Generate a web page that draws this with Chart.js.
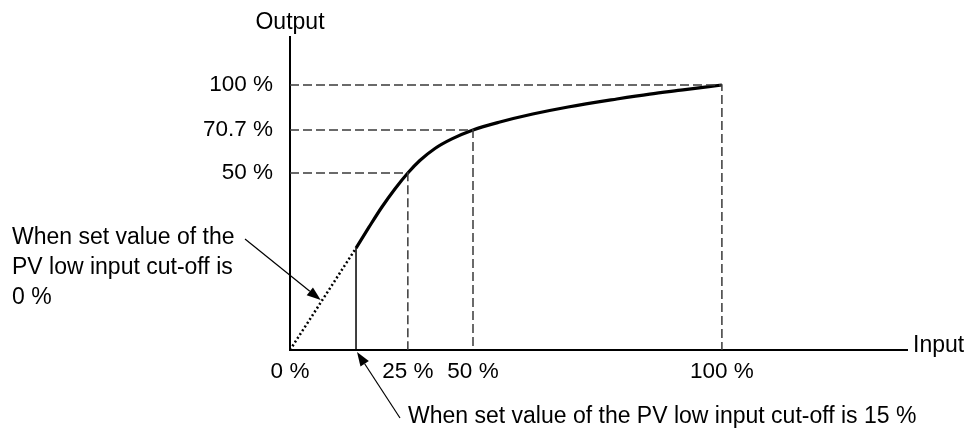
<!DOCTYPE html>
<html>
<head>
<meta charset="utf-8">
<script src="https://cdn.jsdelivr.net/npm/chart.js@4"></script>
<style>
    body { margin: 0; background: #fff; }
    #wrap { width: 967px; height: 432px; }
</style>
</head>
<body>
<div id="wrap"><canvas id="sqrtChart"></canvas></div>
<script>
// Input / output values of the square-root extraction curve (in %)
const inputTicks = [0, 25, 50, 100];
const outputTicks = [50, 70.7, 100];

const curveInput = [15, 17.5, 20.0, 22.5, 25, 29.6, 35.4, 41.9, 50, 55.4, 62.0, 69.1, 78.9, 85.5, 92.2, 100];
const curveOutput = [28.8, 34.7, 40.4, 45.5, 50, 56.0, 61.8, 66.4, 70.7, 75.9, 81.1, 85.7, 90.9, 94.1, 96.8, 100];

// low input cut-off
const cutoffInput = 15;
const cutoffOutput = 28.8;

// dashed guides from each axis to the curve
const guideInput = [25, 50, 100];
const guideOutput = [50, 70.7, 100];

// axes are drawn as a sketch, not to scale: value -> fraction of the axis length
const axisKnots = {
    x: { values: [0, 15, 25, 50, 100, 130], at: [0, 0.107, 0.191, 0.2966, 0.700, 1] },
    y: { values: [0, 50, 70.7, 100, 120], at: [0, 0.5655, 0.7029, 0.8466, 1] }
};

function piecewise(v, from, to) {
    for (let i = 0; i < from.length - 1; i++) {
        if (v <= from[i + 1] || i === from.length - 2) {
            const t = (v - from[i]) / (from[i + 1] - from[i]);
            return to[i] + t * (to[i + 1] - to[i]);
        }
    }
    return to[0];
}

class SketchScale extends Chart.LinearScale {
    static id = 'sketch';
    static defaults = {};
    getPixelForValue(value) {
        if (value === null || value === undefined) return NaN;
        const k = axisKnots[this.id];
        return this.getPixelForDecimal(piecewise(value, k.values, k.at));
    }
    getValueForPixel(pixel) {
        const k = axisKnots[this.id];
        return piecewise(this.getDecimalForPixel(pixel), k.at, k.values);
    }
}
Chart.register(SketchScale);

const FAMILY = '"Liberation Sans", Arial, sans-serif';
const TICK_FONT = { family: FAMILY, size: 22.5 };
const NOTE_FONT = '23px ' + FAMILY;

function pts(xs, ys) {
    return xs.map((x, i) => ({ x: x, y: ys[i] }));
}

const guideSets = guideInput.map((x, i) => ({
    data: [{ x: 0, y: guideOutput[i] }, { x: x, y: guideOutput[i] }, { x: x, y: 0 }],
    borderColor: '#3a3a3a',
    borderWidth: 1.5,
    borderDash: [9, 4],
    pointRadius: 0,
    tension: 0
}));

function arrow(ctx, x1, y1, x2, y2) {
    const ang = Math.atan2(y2 - y1, x2 - x1);
    const len = 14, half = 5;
    const bx = x2 - len * Math.cos(ang), by = y2 - len * Math.sin(ang);
    ctx.beginPath();
    ctx.moveTo(x1, y1);
    ctx.lineTo(bx, by);
    ctx.lineWidth = 1.2;
    ctx.strokeStyle = '#000';
    ctx.stroke();
    ctx.beginPath();
    ctx.moveTo(x2, y2);
    ctx.lineTo(bx + half * Math.sin(ang), by - half * Math.cos(ang));
    ctx.lineTo(bx - half * Math.sin(ang), by + half * Math.cos(ang));
    ctx.closePath();
    ctx.fillStyle = '#000';
    ctx.fill();
}

// axis names, notes and their arrows
const notesPlugin = {
    id: 'notes',
    afterDraw(chart) {
        const ctx = chart.ctx;
        const xs = chart.scales.x, ys = chart.scales.y;
        ctx.save();
        ctx.font = NOTE_FONT;
        ctx.fillStyle = '#000';
        ctx.textBaseline = 'alphabetic';

        ctx.textAlign = 'center';
        ctx.fillText('Output', xs.left, 29);
        ctx.textAlign = 'left';
        ctx.fillText('Input', xs.right + 6, ys.bottom + 2);

        ctx.fillText('When set value of the', 12, 244);
        ctx.fillText('PV low input cut-off is', 12, 274);
        ctx.fillText('0 %', 12, 304);
        ctx.fillText('When set value of the PV low input cut-off is 15 %', 408, 423);

        // arrow to the dotted line (cut-off 0 %)
        const mx = xs.getPixelForValue(cutoffInput * 0.45);
        const my = ys.getPixelForValue(cutoffOutput * 0.45);
        arrow(ctx, 245, 239, mx + 1, my - 4);

        // arrow to the cut-off point on the input axis
        arrow(ctx, 400, 418, xs.getPixelForValue(cutoffInput) + 1, ys.bottom + 2);
        ctx.restore();
    }
};

new Chart(document.getElementById('sqrtChart'), {
    type: 'line',
    data: {
        datasets: [
            ...guideSets,
            {
                // cut-off 0 %: the line keeps going straight to the origin
                data: [{ x: 0, y: 0 }, { x: cutoffInput, y: cutoffOutput }],
                borderColor: '#000',
                borderWidth: 2.5,
                borderDash: [2, 2.5],
                pointRadius: 0
            },
            {
                // cut-off 15 %: output drops to zero
                data: [{ x: cutoffInput, y: 0 }, { x: cutoffInput, y: cutoffOutput }],
                borderColor: '#000',
                borderWidth: 1.5,
                pointRadius: 0
            },
            {
                data: pts(curveInput, curveOutput),
                borderColor: '#000',
                borderWidth: 3.2,
                pointRadius: 0,
                cubicInterpolationMode: 'monotone'
            }
        ]
    },
    options: {
        responsive: true,
        maintainAspectRatio: false,
        animation: false,
        events: [],
        layout: { padding: { left: 0, top: 37, right: 60, bottom: 32 } },
        plugins: {
            legend: { display: false },
            tooltip: { enabled: false }
        },
        scales: {
            x: {
                type: 'sketch',
                min: 0,
                max: 130,
                grid: { display: false, drawTicks: false },
                border: { color: '#000', width: 2 },
                afterBuildTicks: scale => { scale.ticks = inputTicks.map(v => ({ value: v })); },
                afterFit: scale => { scale.height = 50; },
                ticks: {
                    color: '#000',
                    font: TICK_FONT,
                    padding: 8,
                    maxRotation: 0,
                    autoSkip: false,
                    callback: v => v + ' %'
                }
            },
            y: {
                type: 'sketch',
                min: 0,
                max: 120,
                grid: { display: false, drawTicks: false },
                border: { color: '#000', width: 2 },
                afterBuildTicks: scale => { scale.ticks = outputTicks.map(v => ({ value: v })); },
                afterFit: scale => { scale.width = 290; },
                ticks: {
                    color: '#000',
                    font: TICK_FONT,
                    padding: 17,
                    autoSkip: false,
                    callback: v => v + ' %'
                }
            }
        }
    },
    plugins: [notesPlugin]
});
</script>
</body>
</html>
